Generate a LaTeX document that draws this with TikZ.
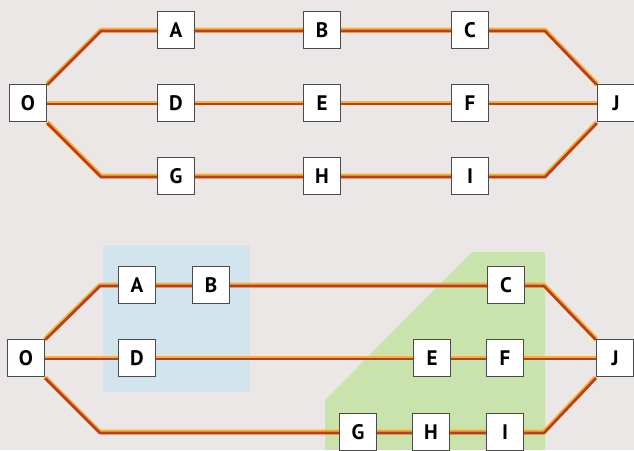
\documentclass[tikz,border=0pt]{standalone}
\usepackage{fontspec}
\setmainfont{PT Sans}
\definecolor{bgc}{HTML}{ECE7E7}
\definecolor{bluez}{HTML}{D2E5EE}
\definecolor{greenz}{HTML}{C8E4AC}
\definecolor{railyel}{HTML}{F2B23C}
\definecolor{railred}{HTML}{BC3D1C}
\definecolor{boxline}{HTML}{4A4A4A}
\pgfdeclarelayer{back}
\pgfdeclarelayer{lines}
\pgfsetlayers{back,lines,main}
\tikzset{
  stn/.style={draw=boxline, line width=1.3pt, fill=white, minimum size=37pt, inner sep=0pt, font=\fontsize{21}{21}\selectfont\bfseries},
  railY/.style={draw=railyel, line width=4.6pt, line join=round},
  railR/.style={draw=railred, line width=2.6pt, line join=round, transform canvas={yshift=-1pt}},
}
\newcommand\rail[1]{\draw[railY] #1; \draw[railR] #1;}
\begin{document}
\begin{tikzpicture}[x=1pt,y=-1pt]
\begin{pgfonlayer}{back}
\fill[bgc] (0,0) rectangle (634,450);
\fill[bluez] (103,245) rectangle (250,392);
\fill[greenz] (472,252) -- (545,252) -- (545,450) -- (325,450) -- (325,400) -- cycle;
\end{pgfonlayer}
\useasboundingbox (0,0) rectangle (634,450);
% top diagram
\node[stn] (O1) at (28,103) {O};
\node[stn] (A1) at (176,30) {A};
\node[stn] (B1) at (322,30) {B};
\node[stn] (C1) at (470,30) {C};
\node[stn] (D1) at (176,103) {D};
\node[stn] (E1) at (322,103) {E};
\node[stn] (F1) at (470,103) {F};
\node[stn] (G1) at (176,176) {G};
\node[stn] (H1) at (322,176) {H};
\node[stn] (I1) at (470,176) {I};
\node[stn] (J1) at (616,103) {J};
\coordinate (t1) at (101,30);
\coordinate (t2) at (545,30);
\coordinate (t3) at (101,176);
\coordinate (t4) at (545,176);
% bottom diagram
\node[stn] (O2) at (26,358) {O};
\node[stn] (A2) at (137,285) {A};
\node[stn] (B2) at (211,285) {B};
\node[stn] (C2) at (506,285) {C};
\node[stn] (D2) at (137,358) {D};
\node[stn] (E2) at (432,358) {E};
\node[stn] (F2) at (505,358) {F};
\node[stn] (G2) at (358,432) {G};
\node[stn] (H2) at (431,432) {H};
\node[stn] (I2) at (505,432) {I};
\node[stn] (J2) at (615,358) {J};
\coordinate (b1) at (100,285);
\coordinate (b2) at (544,285);
\coordinate (b3) at (100,432);
\coordinate (b4) at (544,432);
\begin{pgfonlayer}{lines}
\rail{(O1.north east) -- (t1) -- (A1) -- (B1) -- (C1) -- (t2) -- (J1.north west)}
\rail{(O1) -- (D1) -- (E1) -- (F1) -- (J1)}
\rail{(O1.south east) -- (t3) -- (G1) -- (H1) -- (I1) -- (t4) -- (J1.south west)}
\rail{(O2.north east) -- (b1) -- (A2) -- (B2) -- (C2) -- (b2) -- (J2.north west)}
\rail{(O2) -- (D2) -- (E2) -- (F2) -- (J2)}
\rail{(O2.south east) -- (b3) -- (G2) -- (H2) -- (I2) -- (b4) -- (J2.south west)}
\end{pgfonlayer}
\end{tikzpicture}
\end{document}
